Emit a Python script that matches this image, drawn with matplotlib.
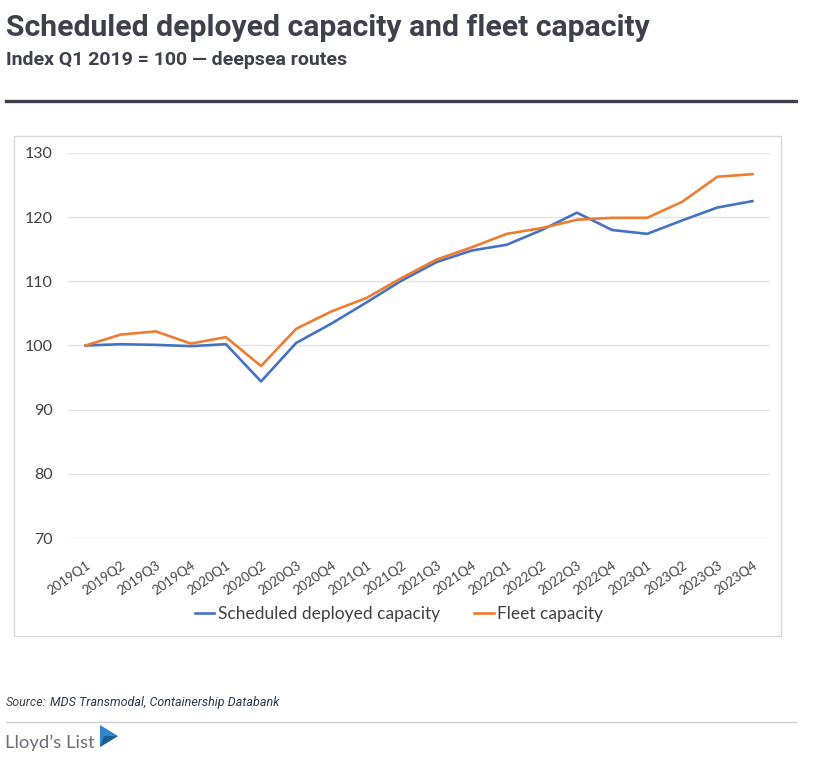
import matplotlib.pyplot as plt
from matplotlib.lines import Line2D
from matplotlib.patches import Rectangle, Polygon

quarters = ["2019Q1", "2019Q2", "2019Q3", "2019Q4", "2020Q1", "2020Q2", "2020Q3", "2020Q4",
            "2021Q1", "2021Q2", "2021Q3", "2021Q4", "2022Q1", "2022Q2", "2022Q3", "2022Q4",
            "2023Q1", "2023Q2", "2023Q3", "2023Q4"]
scheduled = [100.0, 100.2, 100.1, 99.9, 100.2, 94.4, 100.4, 103.4, 106.7, 110.1,
             113.0, 114.8, 115.7, 118.0, 120.7, 118.0, 117.4, 119.5, 121.5, 122.5]
fleet = [100.0, 101.7, 102.2, 100.3, 101.3, 96.8, 102.6, 105.3, 107.4, 110.5,
         113.4, 115.3, 117.4, 118.3, 119.6, 119.9, 119.9, 122.4, 126.3, 126.7]
y_ticks = [70, 80, 90, 100, 110, 120, 130]

W, H = 825, 766
fig = plt.figure(figsize=(W / 100, H / 100), dpi=100)

def fx(px):
    return px / W

def fy(py):
    return 1 - py / H

head = "#3e404b"
fig.text(fx(6), fy(36), "Scheduled deployed capacity and fleet capacity", fontsize=21.7,
         fontweight="bold", family="Roboto", color=head, va="baseline")
fig.text(fx(6), fy(65), "Index Q1 2019 = 100 \u2014 deepsea routes", fontsize=14,
         fontweight="bold", family="Roboto", color=head, va="baseline")
fig.add_artist(Line2D([fx(6), fx(796)], [fy(101), fy(101)], color=head, lw=2.4))

# border of the embedded chart
fig.add_artist(Rectangle((fx(14), fy(636)), fx(781) - fx(14), fy(136) - fy(636),
                         fill=False, edgecolor="#d9d9d9", lw=1))

ax = fig.add_axes([fx(68), fy(538), fx(770) - fx(68), fy(153) - fy(538)])
x = range(len(quarters))
ax.plot(x, scheduled, color="#4472C4", lw=1.9, label="Scheduled deployed capacity")
ax.plot(x, fleet, color="#ED7D31", lw=1.9, label="Fleet capacity")
ax.set_xlim(-0.5, len(quarters) - 0.5)
ax.set_ylim(70, 130)
ax.set_yticks(y_ticks)
ax.set_yticklabels([str(v) for v in y_ticks], family="Lato", fontsize=11.5, color="#404040")
ax.set_xticks(list(x))
ax.set_xticklabels(quarters, rotation=35, ha="right", rotation_mode="anchor",
                   family="Lato", fontsize=9.5, color="#454545")
ax.tick_params(length=0)
ax.tick_params(axis="y", pad=11)
ax.tick_params(axis="x", pad=15)
ax.grid(axis="y", color="#e3e3e3", lw=1)
for s in ax.spines.values():
    s.set_visible(False)
fig.legend(*ax.get_legend_handles_labels(), loc="center", bbox_to_anchor=(fx(399), fy(614)),
           ncol=2, frameon=False, prop={"family": "Lato", "size": 12.5}, labelcolor="#404040",
           handlelength=1.1, handletextpad=0.2, columnspacing=2.0)

fig.text(fx(6), fy(706), "Source:", fontsize=9, family="Roboto", style="italic",
         color="#444444", va="baseline")
fig.text(fx(50), fy(706), "MDS Transmodal, Containership Databank", fontsize=9,
         family="Roboto", style="italic", color="#2b3a4a", va="baseline")
fig.add_artist(Line2D([fx(6), fx(796)], [fy(722), fy(722)], color="#d0d0d0", lw=1))

fig.text(fx(5), fy(748), "Lloyd\u2019s List", fontsize=13.3, family="Lato",
         color="#6b6d78", va="baseline")
fig.add_artist(Polygon([(fx(100), fy(725)), (fx(118), fy(736)), (fx(100), fy(747))],
                       closed=True, facecolor="#2f86c9", edgecolor="none"))
fig.add_artist(Polygon([(fx(104), fy(736)), (fx(118), fy(736)), (fx(100), fy(747))],
                       closed=True, facecolor="#1f5e96", edgecolor="none"))

fig.savefig("out.png", dpi=100)
